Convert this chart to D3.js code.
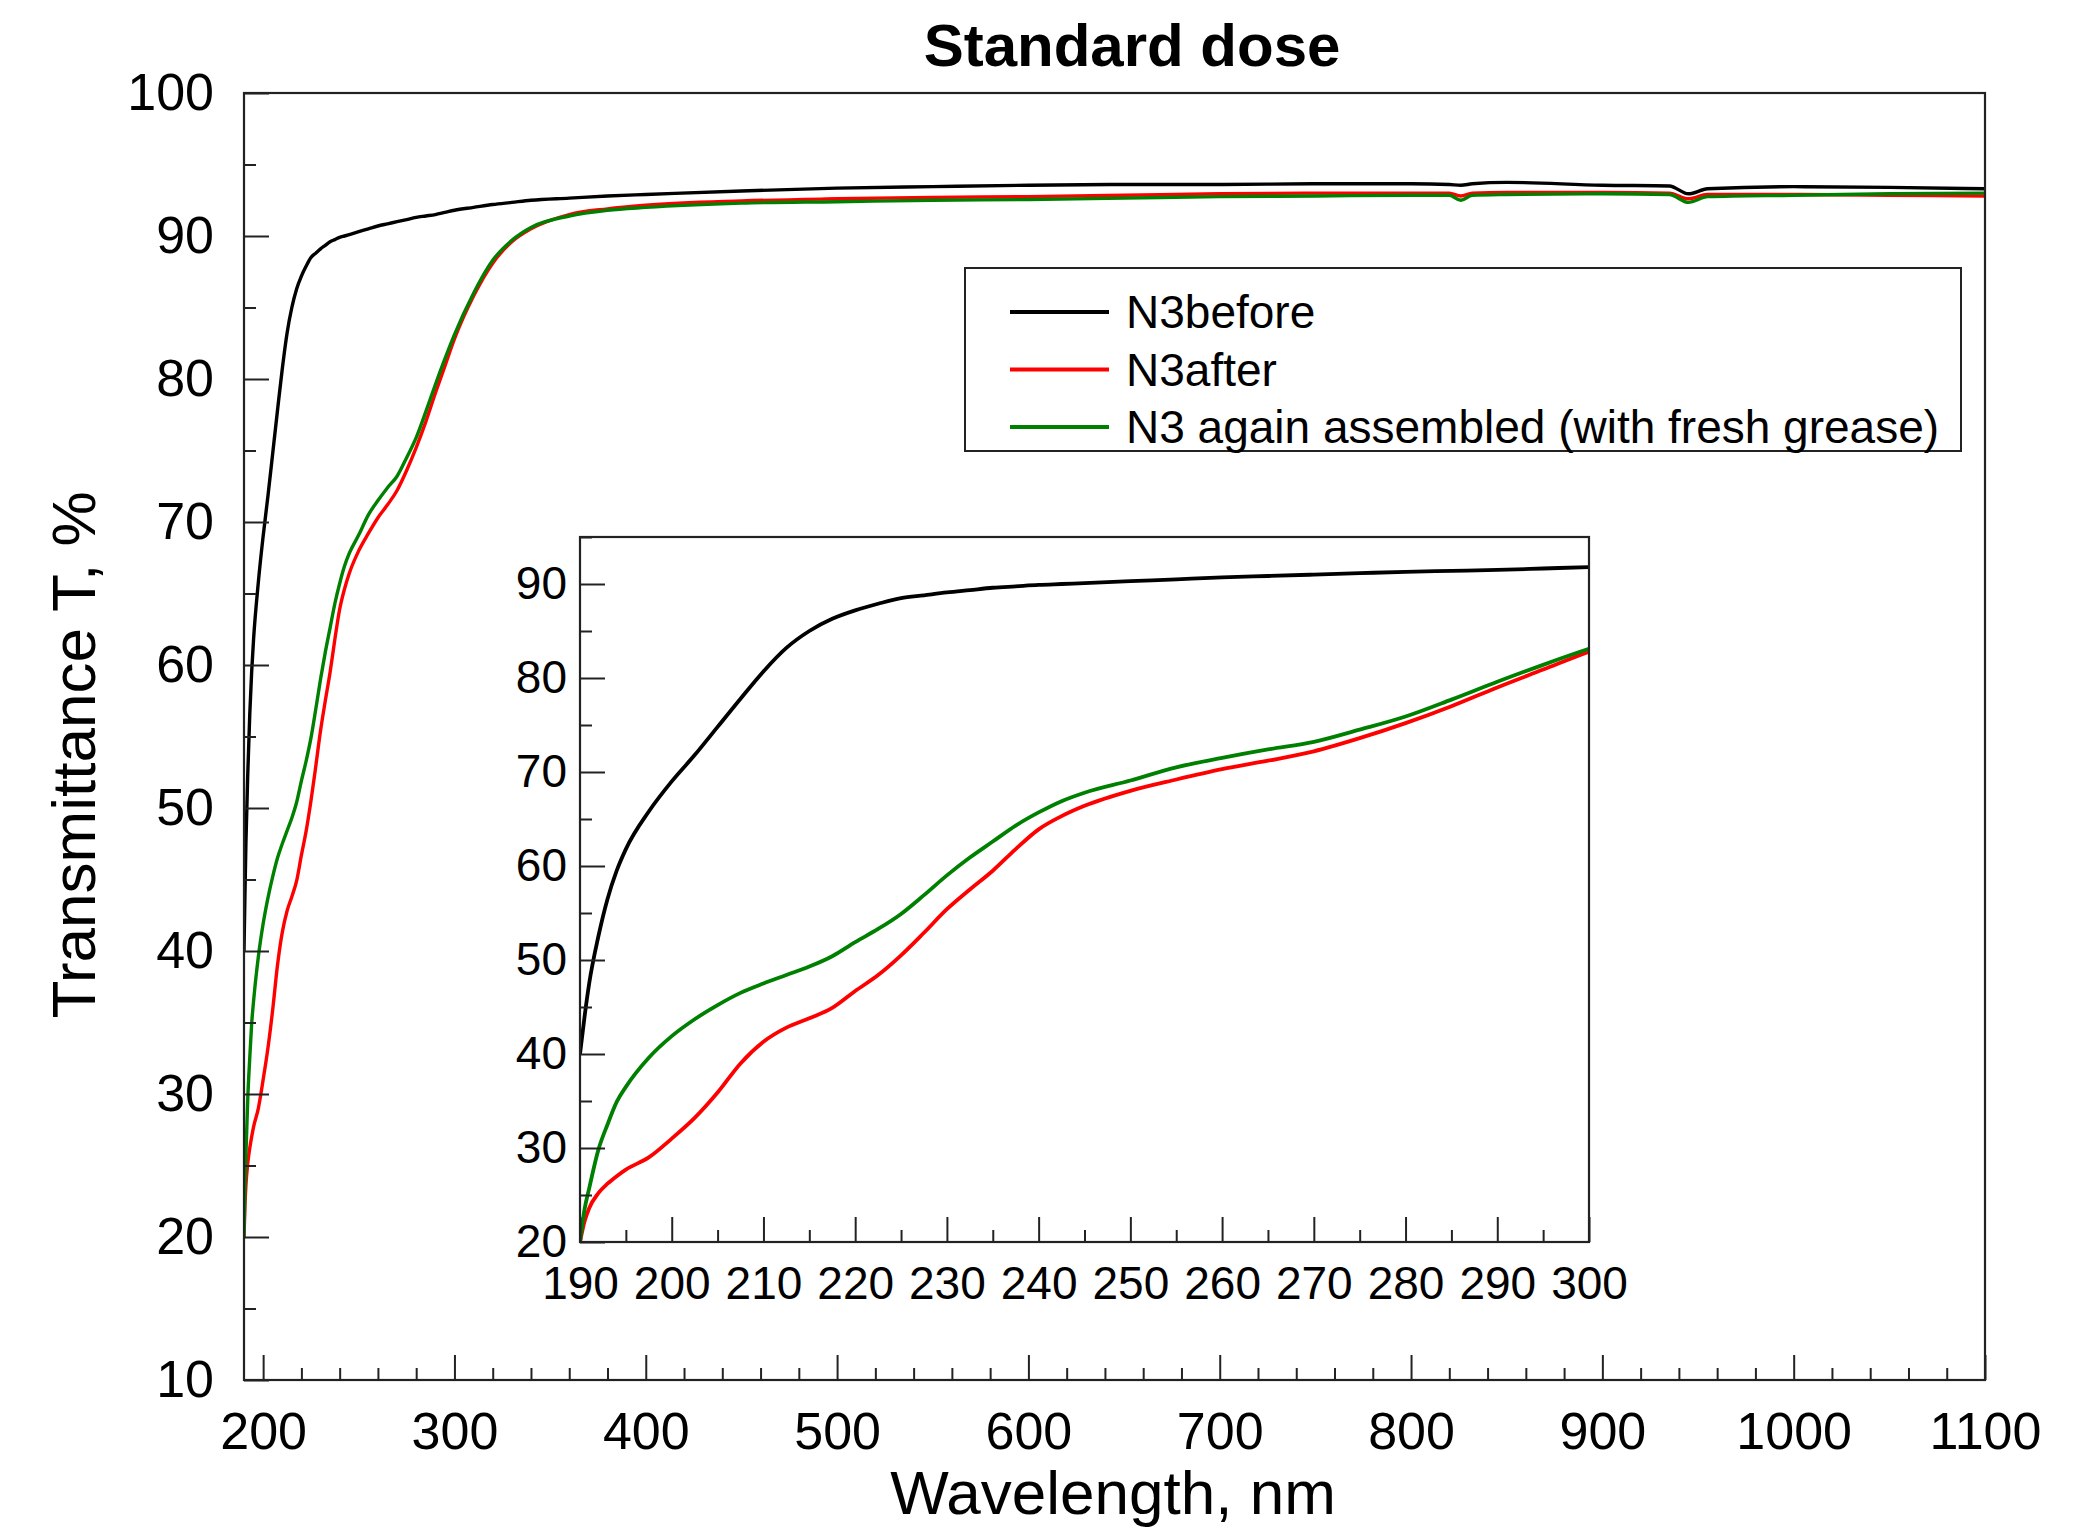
<!DOCTYPE html>
<html>
<head>
<meta charset="utf-8">
<script src="https://cdn.jsdelivr.net/npm/d3@7"></script>
<style>
  body { margin: 0; background: #fff; }
  svg { display: block; font-family: "Liberation Sans", Arial, Helvetica, sans-serif; }
</style>
</head>
<body>
<div id="chart"></div>
<script>
// wavelengths shared by all three series (nm)
const wavelengths = [190, 190.5, 191, 192, 193, 194, 195, 197.5, 200, 202.5, 205, 207.5, 210, 212.5, 215, 217.5, 220,
  222.5, 225, 227.5, 230, 232.5, 235, 237.5, 240, 242.5, 245, 250, 255, 260, 265, 270, 275, 280, 285, 290, 295, 300,
  310, 320, 330, 340, 360, 380, 400, 450, 500, 550, 600, 650, 700, 750, 800, 820, 826, 832, 850, 900, 935, 945, 955,
  1000, 1050, 1100];

const before = [40, 44, 47.5, 52.5, 56.5, 59.5, 61.8, 65.8, 69, 71.8, 74.8, 77.8, 80.7, 83.2, 85, 86.3, 87.2,
  87.9, 88.5, 88.8, 89.1, 89.35, 89.6, 89.75, 89.9, 90.0, 90.1, 90.3, 90.5, 90.7, 90.85, 91.0, 91.15, 91.3, 91.4, 91.5, 91.65, 91.8,
  92.0, 92.2, 92.35, 92.5, 92.65, 92.8, 92.9, 93.15, 93.35, 93.45, 93.55, 93.6, 93.6, 93.65, 93.65, 93.6, 93.55, 93.65, 93.75, 93.55, 93.5, 92.95, 93.3,
  93.45, 93.4, 93.3];

const after = [20, 22.2, 23.6, 25.2, 26.2, 27.0, 27.7, 29.0, 31.0, 33.2, 35.9, 39.0, 41.3, 42.8, 43.8, 44.9, 46.7,
  48.4, 50.5, 52.9, 55.4, 57.5, 59.5, 61.8, 63.9, 65.3, 66.4, 68.0, 69.2, 70.3, 71.2, 72.2, 73.6, 75.2, 77.0, 79.0, 80.9, 82.8,
  85.8, 88.1, 89.6, 90.5, 91.5, 91.9, 92.15, 92.45, 92.6, 92.7, 92.75, 92.85, 92.95, 93.0, 93.0, 93.0, 92.8, 93.0, 93.05, 93.05, 93.0, 92.6, 92.9,
  92.9, 92.85, 92.8];

const reassembled = [20, 23.5, 25.7, 29.8, 32.5, 34.9, 36.5, 39.6, 41.9, 43.7, 45.2, 46.5, 47.5, 48.4, 49.3, 50.4, 51.9,
  53.3, 54.9, 56.9, 59.0, 60.9, 62.6, 64.3, 65.7, 66.9, 67.8, 69.1, 70.5, 71.5, 72.4, 73.2, 74.5, 75.9, 77.7, 79.6, 81.4, 83.1,
  86.0, 88.3, 89.7, 90.6, 91.4, 91.8, 92.0, 92.3, 92.4, 92.5, 92.55, 92.65, 92.75, 92.8, 92.85, 92.85, 92.5, 92.85, 92.9, 92.95, 92.9, 92.35, 92.75,
  92.85, 92.95, 93.0];

const seriesNames = ['N3before', 'N3after', 'N3 again assembled (with fresh grease)'];
const seriesColors = ['#000000', '#ff0000', '#008000'];

const mainXTicks = [200, 300, 400, 500, 600, 700, 800, 900, 1000, 1100];
const mainYTicks = [10, 20, 30, 40, 50, 60, 70, 80, 90, 100];
const insetXTicks = [190, 200, 210, 220, 230, 240, 250, 260, 270, 280, 290, 300];
const insetYTicks = [20, 30, 40, 50, 60, 70, 80, 90];

const W = 2090, H = 1527;
const FRAME = '#222';

const series = seriesNames.map((name, i) => ({
  name,
  color: seriesColors[i],
  values: wavelengths.map((w, j) => ({ x: w, y: [before, after, reassembled][i][j] }))
}));

const svg = d3.select('#chart').append('svg').attr('width', W).attr('height', H);
svg.append('rect').attr('width', W).attr('height', H).attr('fill', '#fff');

// draws one framed panel with inward ticks
function drawPanel(box, xDomain, yDomain, opts) {
  const x = d3.scaleLinear().domain(xDomain).range([box.left, box.right]);
  const y = d3.scaleLinear().domain(yDomain).range([box.bottom, box.top]);
  const g = svg.append('g');

  g.append('rect')
    .attr('x', box.left).attr('y', box.top)
    .attr('width', box.right - box.left).attr('height', box.bottom - box.top)
    .attr('fill', '#fff');

  const clipId = 'clip-' + opts.id;
  g.append('clipPath').attr('id', clipId)
    .append('rect')
    .attr('x', box.left).attr('y', box.top)
    .attr('width', box.right - box.left).attr('height', box.bottom - box.top);

  const line = d3.line()
    .x((d) => x(d.x))
    .y((d) => y(d.y))
    .curve(d3.curveMonotoneX);

  g.append('g').attr('clip-path', 'url(#' + clipId + ')')
    .selectAll('path')
    .data(series)
    .join('path')
    .attr('d', (d) => line(d.values.filter((p) => p.x <= xDomain[1] + 20)))
    .attr('fill', 'none')
    .attr('stroke', (d) => d.color)
    .attr('stroke-width', opts.lineWidth)
    .attr('stroke-linejoin', 'round');

  // minor ticks
  g.append('g')
    .attr('transform', 'translate(0,' + box.bottom + ')')
    .call(d3.axisBottom(x).tickValues(opts.xMinor).tickSizeInner(-12).tickSizeOuter(0).tickFormat(''))
    .call((a) => a.select('.domain').remove());
  g.append('g')
    .attr('transform', 'translate(' + box.left + ',0)')
    .call(d3.axisLeft(y).tickValues(opts.yMinor).tickSizeInner(-12).tickSizeOuter(0).tickFormat(''))
    .call((a) => a.select('.domain').remove());

  // major ticks + labels
  const xa = g.append('g')
    .attr('transform', 'translate(0,' + box.bottom + ')')
    .call(d3.axisBottom(x).tickValues(opts.xTicks).tickSizeInner(-25).tickSizeOuter(0).tickPadding(opts.xPad).tickFormat(d3.format('d')));
  xa.select('.domain').remove();
  xa.selectAll('text').attr('font-size', opts.fontSize).attr('fill', '#000');

  const ya = g.append('g')
    .attr('transform', 'translate(' + box.left + ',0)')
    .call(d3.axisLeft(y).tickValues(opts.yTicks).tickSizeInner(-25).tickSizeOuter(0).tickPadding(opts.yPad).tickFormat(d3.format('d')));
  ya.select('.domain').remove();
  ya.selectAll('text').attr('font-size', opts.fontSize).attr('fill', '#000');

  g.selectAll('.tick line').attr('stroke', FRAME).attr('stroke-width', 2);

  g.append('rect')
    .attr('x', box.left).attr('y', box.top)
    .attr('width', box.right - box.left).attr('height', box.bottom - box.top)
    .attr('fill', 'none').attr('stroke', FRAME).attr('stroke-width', 2.2);

  return { x, y };
}

const mainBox = { left: 244, right: 1985, top: 93, bottom: 1380 };
drawPanel(mainBox, [190, 1100], [10, 100], {
  id: 'main',
  xTicks: mainXTicks,
  yTicks: mainYTicks,
  xMinor: d3.range(220, 1100, 20).filter((v) => v % 100 !== 0),
  yMinor: d3.range(15, 100, 10),
  fontSize: 52,
  xPad: 32,
  yPad: 30,
  lineWidth: 3.4
});

const insetBox = { left: 580, right: 1589, top: 537, bottom: 1242 };
drawPanel(insetBox, [190, 300], [20, 95], {
  id: 'inset',
  xTicks: insetXTicks,
  yTicks: insetYTicks,
  xMinor: d3.range(195, 300, 10),
  yMinor: d3.range(25, 96, 10),
  fontSize: 46,
  xPad: 24,
  yPad: 13,
  lineWidth: 3.8
});

// title and axis labels
svg.append('text')
  .attr('x', 1132).attr('y', 66)
  .attr('text-anchor', 'middle')
  .attr('font-size', 60).attr('font-weight', 'bold')
  .text('Standard dose');

svg.append('text')
  .attr('x', 1113).attr('y', 1514)
  .attr('text-anchor', 'middle')
  .attr('font-size', 62)
  .text('Wavelength, nm');

svg.append('text')
  .attr('transform', 'translate(95,755) rotate(-90)')
  .attr('text-anchor', 'middle')
  .attr('font-size', 62)
  .text('Transmittance T, %');

// legend
const legend = svg.append('g');
legend.append('rect')
  .attr('x', 965).attr('y', 268)
  .attr('width', 996).attr('height', 183)
  .attr('fill', '#fff').attr('stroke', FRAME).attr('stroke-width', 2);

const rows = legend.selectAll('g.row')
  .data(series)
  .join('g')
  .attr('class', 'row')
  .attr('transform', (d, i) => 'translate(0,' + (312 + i * 57.5) + ')');

rows.append('line')
  .attr('x1', 1010).attr('x2', 1109)
  .attr('stroke', (d) => d.color).attr('stroke-width', 4);

rows.append('text')
  .attr('x', 1126).attr('dy', '0.35em')
  .attr('font-size', 46)
  .text((d) => d.name);
</script>
</body>
</html>
